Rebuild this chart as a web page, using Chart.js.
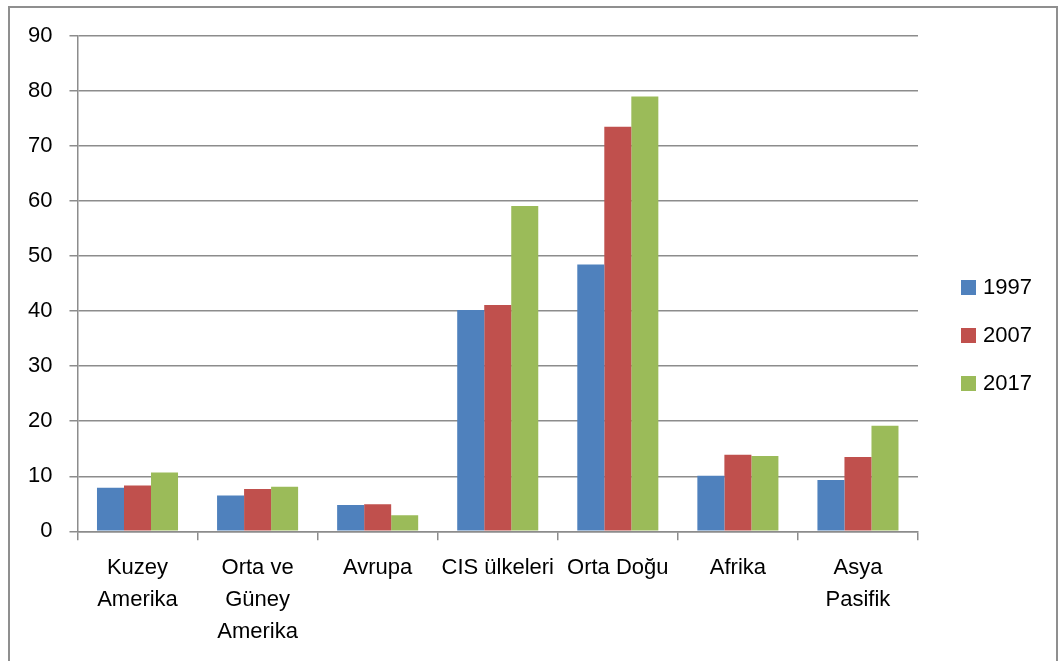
<!DOCTYPE html>
<html>
<head>
<meta charset="utf-8">
<script src="https://cdn.jsdelivr.net/npm/chart.js@4/dist/chart.umd.min.js"></script>
<style>
  html, body { margin: 0; padding: 0; background: #fff; }
  #wrap { position: relative; width: 1064px; height: 661px; }
  #frame { position: absolute; left: 8px; top: 6px; width: 1050px; height: 660px; border: 2px solid #8f8f8f; box-sizing: border-box; }
  canvas { position: absolute; left: 0; top: 0; }
</style>
</head>
<body>
<div id="wrap">
  <div id="frame"></div>
  <canvas id="chart" width="1064" height="661"></canvas>
</div>
<script>
/* data */
const regions = [['Kuzey', 'Amerika'], ['Orta ve', 'Güney', 'Amerika'], 'Avrupa', 'CIS ülkeleri', 'Orta Doğu', 'Afrika', ['Asya', 'Pasifik']];
const years = ['1997', '2007', '2017'];
const v1997 = [7.9, 6.5, 4.8, 40.2, 48.5, 10.1, 9.3];
const v2007 = [8.3, 7.7, 4.9, 41.1, 73.5, 13.9, 13.5];
const v2017 = [10.7, 8.1, 2.9, 59.1, 79.0, 13.7, 19.2];
const yTicks = [0, 10, 20, 30, 40, 50, 60, 70, 80, 90];

const colors = ['#4f81bd', '#c0504d', '#9bbb59'];
const FONT = "'Liberation Sans', Arial, sans-serif";
const gridGray = '#8c8c8c';

/* ── legend on the right, drawn from the datasets ── */
const sideLegend = {
  id: 'sideLegend',
  afterDraw(chart) {
    const ctx = chart.ctx;
    ctx.save();
    ctx.font = '22px ' + FONT;
    ctx.textBaseline = 'middle';
    chart.data.datasets.forEach((ds, i) => {
      const y = 287 + i * 48;
      ctx.fillStyle = ds.backgroundColor;
      ctx.fillRect(961, y - 7, 15, 15);
      ctx.fillStyle = '#000';
      ctx.fillText(ds.label, 983, y + 1);
    });
    ctx.restore();
  }
};

const seriesValues = [v1997, v2007, v2017];

new Chart(document.getElementById('chart'), {
  type: 'bar',
  data: {
    labels: regions,
    datasets: years.map((y, i) => ({
      label: y,
      data: seriesValues[i],
      backgroundColor: colors[i],
      borderWidth: 0,
      barPercentage: 1,
      categoryPercentage: 0.675
    }))
  },
  options: {
    responsive: false,
    animation: false,
    layout: { padding: { left: 11, right: 146, top: 36, bottom: 1 } },
    plugins: { legend: { display: false }, tooltip: { enabled: false } },
    scales: {
      x: {
        grid: { display: true, drawOnChartArea: false, offset: true, color: gridGray, lineWidth: 1.5, tickLength: 9 },
        border: { color: gridGray, width: 1.5 },
        ticks: {
          color: '#000', autoSkip: false, maxRotation: 0, minRotation: 0, padding: 12,
          font: { family: FONT, size: 22, lineHeight: 1.45 }
        }
      },
      y: {
        min: 0, max: 90,
        afterBuildTicks: axis => { axis.ticks = yTicks.map(v => ({ value: v })); },
        grid: { color: gridGray, lineWidth: 1.5, tickLength: 8 },
        border: { color: gridGray, width: 1.5 },
        ticks: { color: '#000', padding: 17, font: { family: FONT, size: 22 } }
      }
    }
  },
  plugins: [sideLegend]
});
</script>
</body>
</html>
